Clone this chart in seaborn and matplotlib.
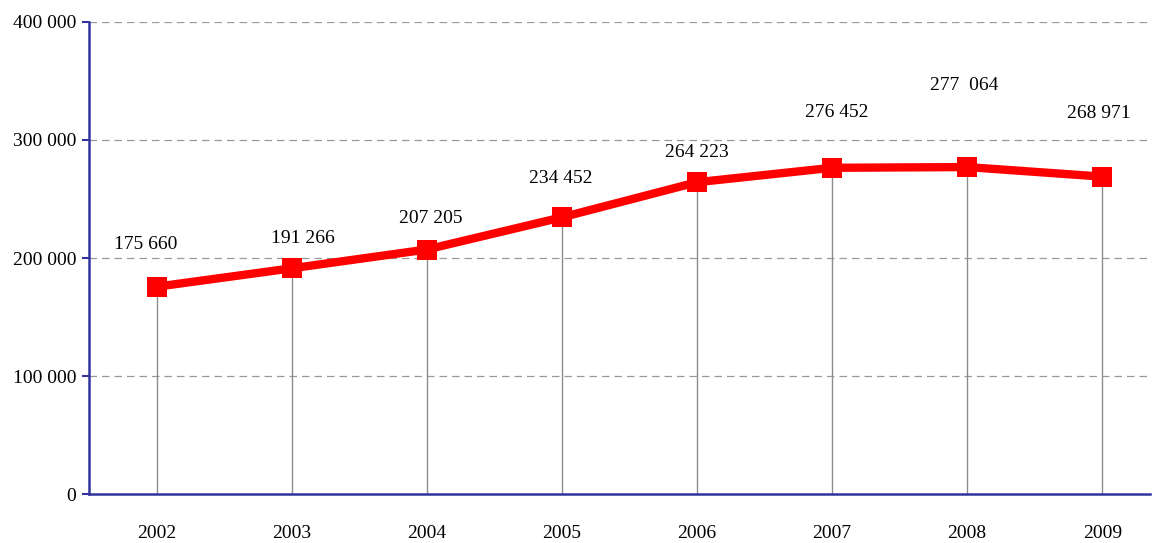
import matplotlib
matplotlib.use("Agg")
import matplotlib.pyplot as plt
import seaborn as sns
import pandas as pd

years = ["2002", "2003", "2004", "2005", "2006", "2007", "2008", "2009"]
values = [175660, 191266, 207205, 234452, 264223, 276452, 277064, 268971]
value_labels = ["175 660", "191 266", "207 205", "234 452", "264 223", "276 452", "277  064", "268 971"]
y_ticks = [0, 100000, 200000, 300000, 400000]
y_tick_labels = ["0", "100 000", "200 000", "300 000", "400 000"]

# label offsets in pixels (dx, dy), picked by eye from the original
label_offsets = [(-11, 42), (11, 30), (4, 31), (-1, 39), (0, 30), (5, 55), (-3, 82), (-3, 63)]

sns.set_style("white")
plt.rcParams["font.family"] = ["Liberation Serif", "DejaVu Serif"]
plt.rcParams["text.color"] = "black"
plt.rcParams["xtick.color"] = "black"
plt.rcParams["ytick.color"] = "black"

df = pd.DataFrame({"year": years, "value": values})
df["pos"] = range(len(years))

fig = plt.figure(figsize=(11.6, 5.43), dpi=100)
ax = fig.add_axes([0.0767, 0.0902, 0.9143, 0.8693])

for y in y_ticks[1:]:
    ax.axhline(y, color="#999999", lw=0.9, ls=(0, (6, 4)), zorder=0)

ax.vlines(df["pos"], 0, df["value"], color="#8c8c8c", lw=1, zorder=1)

sns.lineplot(data=df, x="pos", y="value", ax=ax, color="#ff0000", lw=6,
             marker="s", markersize=15, markeredgewidth=0, zorder=3)

for i, (lab, (dx, dy)) in enumerate(zip(value_labels, label_offsets)):
    ax.annotate(lab, (df["pos"][i], df["value"][i]), xytext=(dx * 0.72, dy * 0.72),
                textcoords="offset points", ha="center", va="center", fontsize=14,
                color="black")

ax.set_xlim(-0.5, 7.35)
ax.set_ylim(0, 400000)
ax.set_xticks(df["pos"])
ax.set_xticklabels(years)
ax.set_yticks(y_ticks)
ax.set_yticklabels(y_tick_labels)
ax.tick_params(axis="x", length=0, pad=22, labelsize=14, labelcolor="black")
ax.tick_params(axis="y", length=5, width=1.5, color="#3333a0", labelsize=14, pad=4,
               left=True, labelcolor="black")
ax.set_xlabel("")
ax.set_ylabel("")

for side in ["top", "right"]:
    ax.spines[side].set_visible(False)
for side in ["left", "bottom"]:
    ax.spines[side].set_color("#3333a0")
    ax.spines[side].set_linewidth(1.8)

fig.savefig("out.png", dpi=100)
